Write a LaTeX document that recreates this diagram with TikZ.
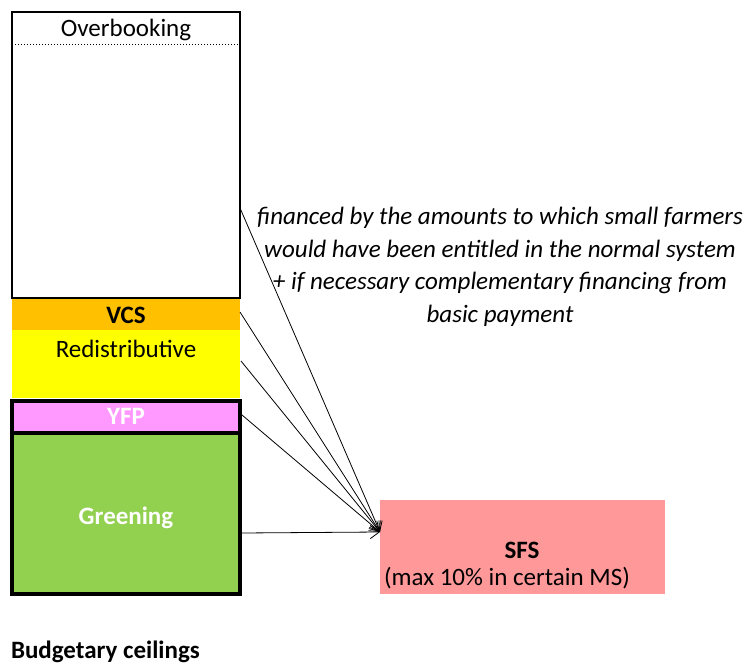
\documentclass[tikz,border=0pt]{standalone}
\usepackage{fontspec}
\setmainfont{Carlito}
\usetikzlibrary{arrows.meta}
\definecolor{vcsorange}{HTML}{FFC000}
\definecolor{redisyellow}{HTML}{FFFF00}
\definecolor{yfppink}{HTML}{FF99FF}
\definecolor{greengreen}{HTML}{92D050}
\definecolor{sfsred}{HTML}{FF9999}
\begin{document}
\begin{tikzpicture}[x=1pt,y=-1pt]
    \tikzstyle{every node}+=[inner sep=0pt, outer sep=0pt, font=\fontsize{25}{30}\selectfont]
    \tikzstyle{ceiling}=[minimum width=228pt, anchor=north west]
    \tikzstyle{flow}=[-{Straight Barb[length=9pt,width=13pt]}, line width=0.8pt]
    \useasboundingbox (0,0) rectangle (753,666);
    % stacked ceilings
    \node [ceiling, draw, line width=2pt, fill=white, minimum height=286pt] (over) at (12,12) {};
    \draw [dotted, line width=1pt] (over.west |- 0,45) -- (over.east |- 0,45);
    \node (overtxt) at (126,30) {Overbooking};
    \node [ceiling, fill=vcsorange, minimum height=31pt] (vcs) at (12,299) {};
    \node (vcstxt) at (126,315) {\textbf{VCS}};
    \node [ceiling, fill=redisyellow, minimum height=68pt] (redis) at (12,330) {};
    \node (redistxt) at (126,349) {Redistributive};
    \node [ceiling, draw, line width=3.5pt, fill=yfppink, minimum height=32pt] (yfp) at (12,401) {};
    \node [text=white] (yfptxt) at (126,416) {\textbf{YFP}};
    \node [ceiling, draw, line width=3.5pt, fill=greengreen, minimum height=161pt] (green) at (12,433) {};
    \node [text=white] (greentxt) at (126,518) {\textbf{Greening}};
    % small farmers scheme
    \node [anchor=north west, fill=sfsred, minimum width=285pt, minimum height=94pt] (sfs) at (380,500) {};
    \node (sfstxt) at (522,550) {\textbf{SFS}};
    \node [anchor=west] (sfsmax) at (384,578) {(max 10\% in certain MS)};
    \node [align=center, font=\fontsize{25}{32.5}\selectfont\itshape] (note) at (500,267)
        {financed by the amounts to which small farmers\\would have been entitled in the normal system\\+ if necessary complementary financing from\\basic payment};
    \node [anchor=west] (budget) at (11,652) {\textbf{Budgetary ceilings}};
    % arrows
    \coordinate (fromover) at (240,208);
    \coordinate (fromvcs) at (240,312);
    \coordinate (fromredis) at (241,361);
    \coordinate (fromyfp) at (242,415);
    \coordinate (fromgreen) at (242,533);
    \coordinate (tosfs) at (380,532);
    \draw [flow] (fromover) -- (tosfs);
    \draw [flow] (fromvcs) -- (tosfs);
    \draw [flow] (fromredis) -- (tosfs);
    \draw [flow] (fromyfp) -- (tosfs);
    \draw [flow] (fromgreen) -- (tosfs);
\end{tikzpicture}
\end{document}
